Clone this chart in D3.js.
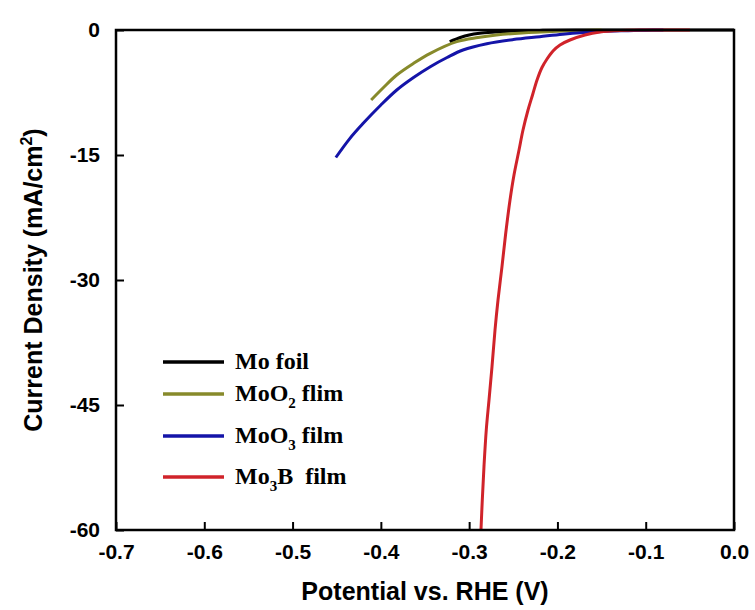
<!DOCTYPE html>
<html>
<head>
<meta charset="utf-8">
<script src="https://cdn.jsdelivr.net/npm/d3@7"></script>
<style>
  body { margin: 0; background: #fff; }
  svg { display: block; }
</style>
</head>
<body>
<svg id="chart" width="755" height="610"></svg>
<script>
// ---- data ----
const xTicks = [-0.7, -0.6, -0.5, -0.4, -0.3, -0.2, -0.1, 0.0];
const xTickLabels = ["-0.7", "-0.6", "-0.5", "-0.4", "-0.3", "-0.2", "-0.1", "0.0"];
const yTicks = [0, -15, -30, -45, -60];
const yTickLabels = ["0", "-15", "-30", "-45", "-60"];

const moFoilX = [-0.322, -0.31, -0.30, -0.288, -0.27, -0.25, -0.22, -0.18, -0.10, 0.0];
const moFoilY = [-1.4, -0.9, -0.6, -0.4, -0.25, -0.12, -0.05, 0, 0, 0];

const moO2X = [-0.411, -0.397, -0.382, -0.363, -0.344, -0.314, -0.29, -0.269, -0.24, -0.20, -0.17, -0.15];
const moO2Y = [-8.4, -6.9, -5.4, -4.0, -2.8, -1.4, -0.9, -0.6, -0.35, -0.15, -0.05, 0];

const moO3X = [-0.451, -0.435, -0.420, -0.400, -0.382, -0.363, -0.344, -0.325, -0.307, -0.28, -0.250, -0.22, -0.194, -0.17, -0.15, -0.12, -0.10, -0.08];
const moO3Y = [-15.3, -13.0, -11.2, -9.0, -7.2, -5.7, -4.4, -3.3, -2.4, -1.65, -1.15, -0.8, -0.5, -0.3, -0.18, -0.08, -0.02, 0];

const mo3BX = [-0.2866, -0.2851, -0.2832, -0.2806, -0.2775, -0.2741, -0.2707, -0.2673, -0.2628, -0.2588, -0.2537, -0.2492, -0.2435, -0.2390, -0.2333, -0.2282, -0.2231, -0.2175, -0.2118, -0.2050, -0.1971, -0.1858, -0.1688, -0.1518, -0.1291, -0.1008, -0.05];
const mo3BY = [-60, -56.4, -52.4, -48.0, -44.4, -40.4, -36.0, -32.4, -28.4, -24.6, -20.4, -17.4, -14.4, -12.0, -9.6, -7.8, -6.0, -4.5, -3.48, -2.52, -1.8, -1.2, -0.6, -0.24, -0.06, 0, 0];

const seriesNames = ["Mo foil", "MoO2 flim", "MoO3 film", "Mo3B  film"];
const seriesColors = ["#000000", "#878a2b", "#1414a8", "#d0232a"];

// ---- layout ----
const svg = d3.select("#chart");
const m = { left: 116, right: 734, top: 30, bottom: 530 };

const x = d3.scaleLinear().domain([-0.7, 0.0]).range([m.left, m.right]);
const y = d3.scaleLinear().domain([-60, 0]).range([m.bottom, m.top]);

const series = [
  { name: seriesNames[0], color: seriesColors[0], xs: moFoilX, ys: moFoilY },
  { name: seriesNames[1], color: seriesColors[1], xs: moO2X, ys: moO2Y },
  { name: seriesNames[2], color: seriesColors[2], xs: moO3X, ys: moO3Y },
  { name: seriesNames[3], color: seriesColors[3], xs: mo3BX, ys: mo3BY }
];

const line = d3.line()
  .x(d => x(d[0]))
  .y(d => y(d[1]))
  .curve(d3.curveCatmullRom.alpha(0.5));

// curves
series.forEach(s => {
  const pts = s.xs.map((v, i) => [v, s.ys[i]]);
  svg.append("path")
    .attr("d", line(pts))
    .attr("fill", "none")
    .attr("stroke", s.color)
    .attr("stroke-width", 3)
    .attr("stroke-linejoin", "round");
});

// frame
svg.append("rect")
  .attr("x", m.left).attr("y", m.top)
  .attr("width", m.right - m.left).attr("height", m.bottom - m.top)
  .attr("fill", "none").attr("stroke", "#000").attr("stroke-width", 2.5);

// x axis
const xAxis = d3.axisBottom(x).tickValues(xTicks).tickSize(-8).tickPadding(14)
  .tickFormat((d, i) => xTickLabels[i]);
const gx = svg.append("g").attr("transform", `translate(0,${m.bottom})`).call(xAxis);
gx.select(".domain").remove();
gx.selectAll(".tick line").attr("stroke", "#000").attr("stroke-width", 2);
gx.selectAll(".tick text")
  .attr("font-family", "Liberation Sans, Arial, sans-serif")
  .attr("font-weight", "bold").attr("font-size", 21).attr("fill", "#000");

// y axis
const yAxis = d3.axisLeft(y).tickValues(yTicks).tickSize(-8).tickPadding(16)
  .tickFormat((d, i) => yTickLabels[i]);
const gy = svg.append("g").attr("transform", `translate(${m.left},0)`).call(yAxis);
gy.select(".domain").remove();
gy.selectAll(".tick line").attr("stroke", "#000").attr("stroke-width", 2);
gy.selectAll(".tick text")
  .attr("font-family", "Liberation Sans, Arial, sans-serif")
  .attr("font-weight", "bold").attr("font-size", 21).attr("fill", "#000");

// axis titles
svg.append("text")
  .attr("x", (m.left + m.right) / 2).attr("y", 600)
  .attr("text-anchor", "middle")
  .attr("font-family", "Liberation Sans, Arial, sans-serif")
  .attr("font-weight", "bold").attr("font-size", 25)
  .text("Potential vs. RHE (V)");

const yt = svg.append("text")
  .attr("transform", `translate(42,${(m.top + m.bottom) / 2}) rotate(-90)`)
  .attr("text-anchor", "middle")
  .attr("font-family", "Liberation Sans, Arial, sans-serif")
  .attr("font-weight", "bold").attr("font-size", 25);
yt.append("tspan").text("Current Density (mA/cm");
yt.append("tspan").attr("font-size", 16).attr("dy", -10).text("2");
yt.append("tspan").attr("dy", 10).text(")");

// legend
const legendRows = [362, 394, 436, 477];
const legendParts = [
  [["Mo foil", false]],
  [["MoO", false], ["2", true], [" flim", false]],
  [["MoO", false], ["3", true], [" film", false]],
  [["Mo", false], ["3", true], ["B\u00a0 film", false]]
];
series.forEach((s, i) => {
  const ly = legendRows[i];
  svg.append("line")
    .attr("x1", 163).attr("x2", 224).attr("y1", ly).attr("y2", ly)
    .attr("stroke", s.color).attr("stroke-width", 3.5);
  const t = svg.append("text")
    .attr("x", 235).attr("y", ly + 7)
    .attr("font-family", "Liberation Serif, Times New Roman, serif")
    .attr("font-weight", "bold").attr("font-size", 24).attr("fill", "#000");
  let sub = false;
  legendParts[i].forEach(([txt, isSub]) => {
    const ts = t.append("tspan").text(txt);
    if (isSub && !sub) { ts.attr("dy", 7).attr("font-size", 15); sub = true; }
    else if (!isSub && sub) { ts.attr("dy", -7); sub = false; }
  });
});
</script>
</body>
</html>
